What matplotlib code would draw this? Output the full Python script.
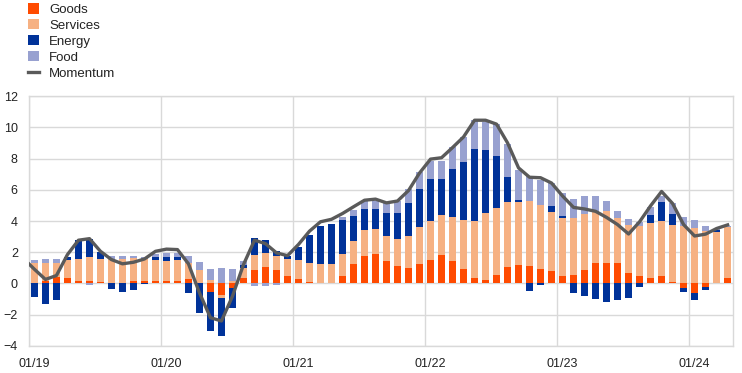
import numpy as np
import matplotlib
matplotlib.use("Agg")
import matplotlib.pyplot as plt

plt.rcParams['font.family'] = ['Liberation Sans', 'DejaVu Sans']

# monthly data, 01/2019 - 04/2024
year_labels = ["01/19", "01/20", "01/21", "01/22", "01/23", "01/24"]

goods = [0.00, 0.15, 0.40, 0.32, 0.19, 0.15, 0.08, 0.00, 0.00, 0.13, 0.13, 0.13,
         0.13, 0.19, 0.26, 0.00, -0.55, -0.75, -0.28, 0.32, 0.89, 1.06, 0.89, 0.51,
         0.30, 0.12, 0.03, 0.04, 0.51, 1.27, 1.74, 1.86, 1.42, 1.10, 1.00, 1.27,
         1.53, 1.80, 1.46, 0.93, 0.34, 0.25, 0.53, 1.05, 1.19, 1.12, 0.91, 0.77,
         0.51, 0.57, 0.85, 1.28, 1.32, 1.28, 0.68, 0.51, 0.38, 0.46, 0.09, -0.32,
         -0.60, -0.22, 0.00, 0.33]
services = [1.28, 1.13, 0.88, 1.21, 1.38, 1.53, 1.49, 1.57, 1.57, 1.51, 1.45, 1.36,
            1.30, 1.30, 1.02, 0.85, 0.20, -0.15, 0.15, 0.64, 0.91, 0.89, 0.89, 1.03,
            1.21, 1.20, 1.24, 1.22, 1.38, 1.44, 1.67, 1.61, 1.63, 1.74, 2.02, 2.33,
            2.44, 2.59, 2.78, 3.14, 3.63, 4.29, 4.29, 4.17, 4.05, 4.14, 4.10, 3.79,
            3.70, 3.62, 3.62, 3.28, 3.30, 2.91, 3.09, 3.15, 3.50, 3.54, 3.64, 3.66,
            3.58, 3.38, 3.28, 3.28]
energy = [-0.89, -1.32, -1.04, 0.17, 1.19, 1.19, 0.43, -0.38, -0.53, -0.43, -0.06, 0.19,
          0.28, 0.21, -0.60, -1.90, -2.49, -2.49, -1.27, 0.25, 1.10, 0.81, 0.28, 0.19,
          0.80, 1.76, 2.42, 2.57, 2.17, 1.62, 1.35, 1.28, 1.44, 1.65, 2.13, 2.45,
          2.72, 2.27, 3.08, 3.72, 4.67, 3.99, 3.33, 1.57, 0.10, -0.45, -0.10, 0.40,
          0.08, -0.60, -0.77, -1.02, -1.17, -1.06, -0.91, -0.21, 0.50, 1.19, 0.70, -0.21,
          -0.45, -0.20, 0.17, 0.00]
food = [0.21, 0.26, 0.26, 0.00, 0.00, -0.10, 0.00, 0.20, 0.20, 0.15, 0.10, 0.23,
        0.25, 0.25, 0.47, 0.55, 0.70, 1.00, 0.75, 0.26, -0.17, -0.15, -0.10, 0.00,
        0.00, 0.00, 0.00, 0.00, 0.21, 0.36, 0.50, 0.50, 0.64, 0.79, 0.87, 1.10,
        1.15, 1.19, 1.42, 1.59, 1.80, 1.80, 2.08, 2.11, 1.95, 1.65, 1.60, 1.50,
        1.52, 1.21, 1.10, 1.02, 0.64, 0.47, 0.36, 0.30, 0.50, 0.38, 0.72, 0.60,
        0.47, 0.28, 0.03, 0.06]
# momentum starts 12/2018 (clipped at the left edge)
momentum = [1.60, 0.91, 0.26, 0.51, 1.85, 2.77, 2.87, 2.06, 1.53, 1.26, 1.36, 1.57, 2.06,
            2.20, 2.17, 1.26, -0.60, -2.19, -2.40, -0.81, 1.21, 2.77, 2.55, 1.96, 1.78,
            2.50, 3.35, 3.95, 4.11, 4.48, 4.91, 5.33, 5.40, 5.16, 5.28, 5.95, 7.07,
            7.96, 8.05, 8.70, 9.38, 10.45, 10.45, 10.20, 9.00, 7.40, 6.80, 6.77, 6.43,
            5.60, 4.87, 4.77, 4.62, 4.23, 3.77, 3.17, 3.95, 4.97, 5.89, 5.12, 3.77,
            3.04, 3.16, 3.52, 3.75]

names = ["Goods", "Services", "Energy", "Food"]
colors = ["#ff4b00", "#f6b183", "#003299", "#98a1d0"]

def main():
    series = np.array([goods, services, energy, food])
    n = series.shape[1]
    x = np.arange(n)

    fig = plt.figure(figsize=(7.42, 3.73), dpi=100)
    ax = fig.add_axes([0.039, 0.0724, 0.949, 0.6702])

    handles = []
    pos_base = np.zeros(n)
    neg_base = np.zeros(n)
    for vals, name, col in zip(series, names, colors):
        bottom = np.where(vals >= 0, pos_base, neg_base)
        b = ax.bar(x, vals, width=0.66, bottom=bottom, color=col, label=name,
                   linewidth=0, zorder=2)
        handles.append(b)
        pos_base = pos_base + np.clip(vals, 0, None)
        neg_base = neg_base + np.clip(vals, None, 0)

    xm = np.arange(-1, n)
    ln, = ax.plot(xm, momentum, color="#5a5a5a", linewidth=2.4, label="Momentum",
                  zorder=3, solid_joinstyle="round")
    handles.append(ln)

    ax.set_xlim(-0.5, n - 0.5)
    ax.set_ylim(-4, 12)
    ax.set_yticks(np.arange(-4, 13, 2))
    ax.set_xticks(np.arange(0, n, 12))
    ax.set_xticklabels(year_labels)
    ax.set_xticks(np.arange(-0.5, n, 12), minor=True)

    ax.grid(axis="y", color="#d9d9d9", linewidth=1.0)
    ax.grid(axis="x", which="minor", color="#d9d9d9", linewidth=1.0)
    ax.set_axisbelow(True)
    for sp in ax.spines.values():
        sp.set_color("#d9d9d9")
        sp.set_linewidth(1.0)
    ax.tick_params(axis="both", which="both", length=0, labelsize=9, colors="#222222")
    ax.tick_params(axis="x", pad=9)
    ax.tick_params(axis="y", pad=8)

    leg = fig.legend(handles=handles, labels=names + ["Momentum"],
                     loc="upper left", bbox_to_anchor=(0.027, 1.012), frameon=False,
                     fontsize=9.5, handlelength=0.8, handleheight=0.8,
                     handletextpad=0.8, labelspacing=0.25, borderaxespad=0.2)
    for t in leg.get_texts():
        t.set_color("#222222")

    fig.savefig("out.png", dpi=100)

if __name__ == '__main__':
    main()
